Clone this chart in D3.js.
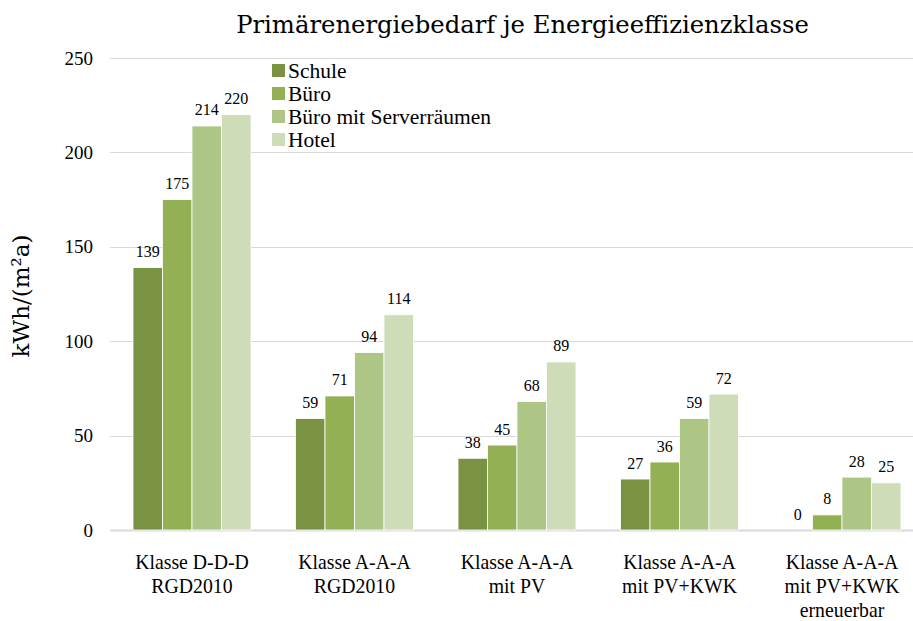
<!DOCTYPE html>
<html>
<head>
<meta charset="utf-8">
<script src="https://cdn.jsdelivr.net/npm/d3@7"></script>
<style>
	body { margin: 0; background: #fff; }
	text { font-family: "Liberation Serif", "DejaVu Serif", serif; fill: #000; }
	.wide { font-family: "DejaVu Serif", "Liberation Serif", serif; }
</style>
</head>
<body>
<svg id="chart" width="913" height="621"></svg>
<script>
// data
var categories = [
	['Klasse D-D-D', 'RGD2010'],
	['Klasse A-A-A', 'RGD2010'],
	['Klasse A-A-A', 'mit PV'],
	['Klasse A-A-A', 'mit PV+KWK'],
	['Klasse A-A-A', 'mit PV+KWK', 'erneuerbar']
];
var seriesNames = ['Schule', 'Büro', 'Büro mit Serverräumen', 'Hotel'];
var schule = [139, 59, 38, 27, 0];
var buero = [175, 71, 45, 36, 8];
var bueroServer = [214, 94, 68, 59, 28];
var hotel = [220, 114, 89, 72, 25];
var yTicks = [0, 50, 100, 150, 200, 250];
var colors = ['#7a9343', '#93b055', '#adc585', '#cfdcb8'];

var series = [schule, buero, bueroServer, hotel];

var svg = d3.select('#chart');
var g = svg.append('g');

var x0 = d3.scaleBand()
	.domain(d3.range(categories.length))
	.range([110.75, 923.25])
	.paddingInner(0.274)
	.paddingOuter(0.137);

var x1 = d3.scaleBand()
	.domain(d3.range(seriesNames.length))
	.range([0, x0.bandwidth()]);

var y = d3.scaleLinear()
	.domain([0, 250])
	.range([530, 58]);

// gridlines
g.selectAll('line.grid')
	.data(yTicks)
	.enter().append('line')
	.attr('class', 'grid')
	.attr('x1', 110)
	.attr('x2', 913)
	.attr('y1', function(d) { return Math.round(y(d)) + 0.5; })
	.attr('y2', function(d) { return Math.round(y(d)) + 0.5; })
	.attr('stroke', '#d9d9d9')
	.attr('stroke-width', function(d) { return d === 0 ? 2 : 1; });

// y axis labels
var yAxis = d3.axisLeft(y).tickValues(yTicks).tickSize(0).tickPadding(0);
var ya = g.append('g')
	.attr('transform', 'translate(93,0)')
	.call(yAxis);
ya.select('.domain').remove();
ya.selectAll('text')
	.style('font-size', '19px')
	.style('font-family', '"Liberation Serif", serif')
	.attr('fill', '#000');

// y title
g.append('text')
	.attr('class', 'wide')
	.attr('transform', 'translate(29,296) rotate(-90)')
	.attr('text-anchor', 'middle')
	.style('font-size', '23px')
	.text('kWh/(m²a)');

// bars
var groups = g.selectAll('g.group')
	.data(categories)
	.enter().append('g')
	.attr('class', 'group')
	.attr('transform', function(d, i) { return 'translate(' + x0(i) + ',0)'; });

groups.each(function(c, ci) {
	var grp = d3.select(this);
	series.forEach(function(s, si) {
		var v = s[ci];
		if (v > 0) {
			grp.append('rect')
				.attr('x', x1(si))
				.attr('y', y(v))
				.attr('width', x1.bandwidth())
				.attr('height', y(0) - y(v))
				.style('fill', colors[si])
				.attr('stroke', '#fff')
				.attr('stroke-width', 0.8);
		}
		grp.append('text')
			.attr('x', x1(si) + x1.bandwidth() / 2)
			.attr('y', y(v) - 10.5)
			.attr('text-anchor', 'middle')
			.style('font-size', '16px')
			.text(v);
	});
});

// x labels, one text per line
groups.each(function(c, ci) {
	var grp = d3.select(this);
	c.forEach(function(line, li) {
		grp.append('text')
			.attr('transform', 'translate(' + (x0.bandwidth() / 2) + ',' + (569 + li * 24) + ') scale(0.92,1)')
			.attr('text-anchor', 'middle')
			.style('font-size', '21.5px')
			.text(line);
	});
});

// title
g.append('text')
	.attr('class', 'wide')
	.attr('x', 522.5)
	.attr('y', 33)
	.attr('text-anchor', 'middle')
	.style('font-size', '24.3px')
	.text('Primärenergiebedarf je Energieeffizienzklasse');

// legend
var legend = g.selectAll('g.legend')
	.data(seriesNames)
	.enter().append('g')
	.attr('class', 'legend')
	.attr('transform', function(d, i) { return 'translate(272,' + (64 + i * 23) + ')'; });

legend.append('rect')
	.attr('width', 13)
	.attr('height', 13)
	.style('fill', function(d, i) { return colors[i]; });

legend.append('text')
	.attr('x', 16)
	.attr('y', 13.5)
	.style('font-size', '21.5px')
	.text(function(d) { return d; });
</script>
</body>
</html>
